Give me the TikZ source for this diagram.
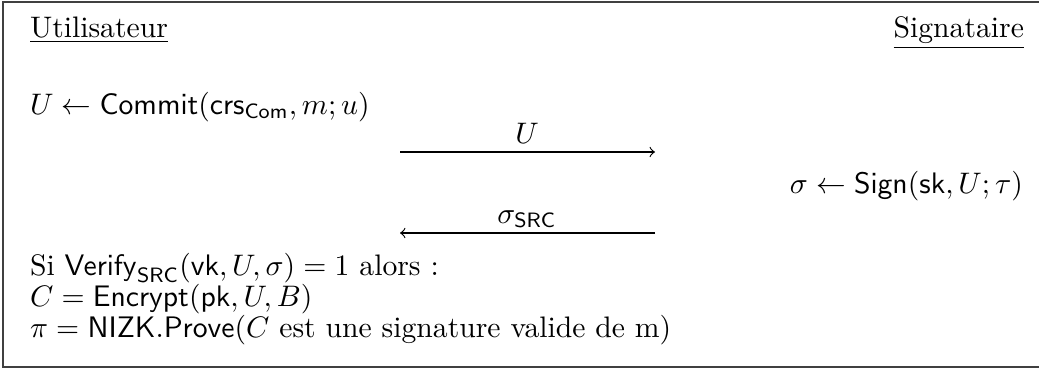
\documentclass[tikz,border=0pt]{standalone}
\begin{document}
\begin{tikzpicture}[x=0.337pt,y=-0.337pt,
  txt/.style={inner sep=0pt,outer sep=0pt,anchor=base west},
  txtr/.style={inner sep=0pt,outer sep=0pt,anchor=base east},
  lbl/.style={inner sep=0pt,outer sep=0pt,anchor=base},
  msg/.style={->,line width=0.4pt},
  frame/.style={line width=0.5pt,draw=black!75}]
\useasboundingbox (0,0) rectangle (1039,369);
\draw[frame] (1039,2) -- (3,2) -- (3,367) -- (1039,367);
\node[txt] (user) at (30,37) {\underline{Utilisateur}};
\node[txtr] (signer) at (1024,37) {\underline{Signataire}};
\node[txt] (commit) at (30,114) {$U \leftarrow \mathsf{Commit}(\mathsf{crs}_{\mathsf{Com}}, m; u)$};
\coordinate (m1s) at (400,152);
\coordinate (m1e) at (655,152);
\draw[msg] (m1s) -- (m1e);
\node[lbl] (m1l) at (527,143) {$U$};
\node[txtr] (sign) at (1023,193) {$\sigma \leftarrow \mathsf{Sign}(\mathsf{sk}, U; \tau)$};
\coordinate (m2s) at (655,233);
\coordinate (m2e) at (400,233);
\draw[msg] (m2s) -- (m2e);
\node[lbl] (m2l) at (527,223) {$\sigma_{\mathsf{SRC}}$};
\node[txt] (verif) at (30,275) {Si $\mathsf{Verify}_{\mathsf{SRC}}(\mathsf{vk}, U, \sigma) = 1$ alors :};
\node[txt] (enc) at (30,306) {$C = \mathsf{Encrypt}(\mathsf{pk}, U, B)$};
\node[txt] (proof) at (30,337) {$\pi = \mathsf{NIZK.Prove}(C$ est une signature valide de m)};
\end{tikzpicture}
\end{document}
